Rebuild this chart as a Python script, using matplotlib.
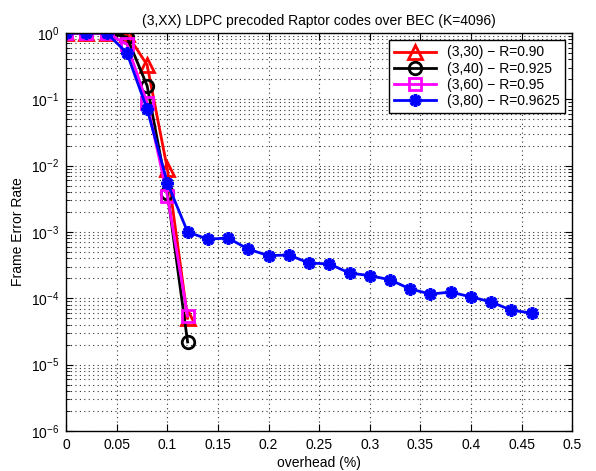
import numpy as np
import matplotlib
matplotlib.use('Agg')
import matplotlib.pyplot as plt
from matplotlib.ticker import LogLocator, NullFormatter

plt.rcParams['font.family'] = ['Liberation Sans', 'DejaVu Sans']
plt.rcParams['font.size'] = 10

# overhead (fraction) and frame error rate per code
x_short = [0.0, 0.02, 0.04, 0.06, 0.08, 0.10, 0.12]
fer_330 = [1.0, 1.0, 1.0, 0.97, 0.33, 8.9e-3, 5.0e-5]
fer_340 = [1.0, 1.0, 1.0, 0.87, 0.16, 3.9e-3, 2.2e-5]
fer_360 = [1.0, 1.0, 1.0, 0.68, 0.088, 3.5e-3, 5.4e-5]

x_long = [0.0, 0.02, 0.04, 0.06, 0.08, 0.10, 0.12, 0.14, 0.16, 0.18, 0.20, 0.22,
          0.24, 0.26, 0.28, 0.30, 0.32, 0.34, 0.36, 0.38, 0.40, 0.42, 0.44, 0.46]
fer_380 = [1.0, 1.0, 1.0, 0.50, 0.071, 5.5e-3, 1.0e-3, 7.8e-4, 8.1e-4, 5.5e-4, 4.4e-4, 4.5e-4,
           3.4e-4, 3.3e-4, 2.4e-4, 2.2e-4, 1.9e-4, 1.38e-4, 1.16e-4, 1.24e-4, 1.05e-4, 8.8e-5,
           6.6e-5, 6.0e-5]

labels = ['(3,30) \u2212 R=0.90', '(3,40) \u2212 R=0.925', '(3,60) \u2212 R=0.95', '(3,80) \u2212 R=0.9625']
xticks = [0, 0.05, 0.1, 0.15, 0.2, 0.25, 0.3, 0.35, 0.4, 0.45, 0.5]
xticklabels = ['0', '0.05', '0.1', '0.15', '0.2', '0.25', '0.3', '0.35', '0.4', '0.45', '0.5']

fig = plt.figure(figsize=(5.96, 4.71), dpi=100)
ax = fig.add_axes([0.111, 0.085, 0.849, 0.845])

lw = 2.0
ax.semilogy(x_short, fer_330, color='red', lw=lw, marker='^', ms=10, mfc='none', mew=2, label=labels[0])
ax.semilogy(x_short, fer_340, color='black', lw=lw, marker='o', ms=9, mfc='none', mew=2, label=labels[1])
ax.semilogy(x_short, fer_360, color='magenta', lw=lw, marker='s', ms=8, mfc='none', mew=2, label=labels[2])
ax.semilogy(x_long, fer_380, color='blue', lw=lw, marker=(8, 2, 0), ms=9, mew=2.5, label=labels[3])

ax.set_xlim(0, 0.5)
ax.set_ylim(1e-6, 1)
ax.set_xticks(xticks)
ax.set_xticklabels(xticklabels)
ax.yaxis.set_major_locator(LogLocator(base=10, numticks=10))
ax.yaxis.set_minor_locator(LogLocator(base=10, subs=np.arange(2, 10), numticks=20))
ax.yaxis.set_minor_formatter(NullFormatter())

ax.tick_params(which='both', direction='in', top=True, right=True)
ax.tick_params(which='major', length=5, pad=5)
ax.tick_params(which='minor', length=3)
dots = (0, (1, 3))
ax.grid(True, which='major', linestyle=dots, color='#333333', lw=0.8)
ax.grid(True, which='minor', axis='y', linestyle=dots, color='#333333', lw=0.8)
for s in ax.spines.values():
    s.set_linewidth(1.0)

ax.set_title('(3,XX) LDPC precoded Raptor codes over BEC (K=4096)', fontsize=10)
ax.set_xlabel('overhead (%)', labelpad=3)
ax.set_ylabel('Frame Error Rate')

leg = ax.legend(loc='upper right', fancybox=False, edgecolor='black', framealpha=1,
                handlelength=3, borderaxespad=0.5, labelspacing=0.15, fontsize=10)
leg.get_frame().set_linewidth(1.0)

fig.savefig('out.png', dpi=100)
